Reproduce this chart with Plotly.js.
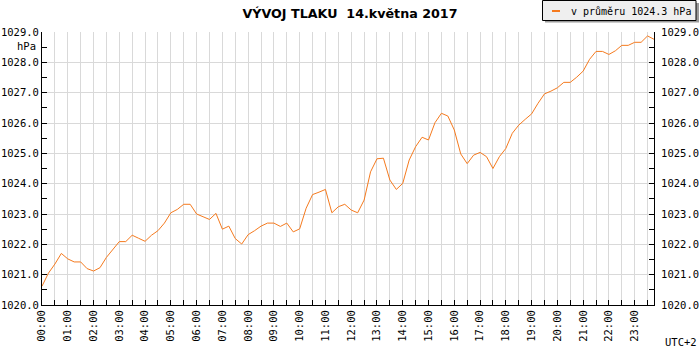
<!DOCTYPE html>
<html><head><meta charset="utf-8">
<script src="https://cdn.plot.ly/plotly-3.0.1.min.js"></script>
<style>html,body{margin:0;padding:0;background:#fff}#chart{width:700px;height:350px}</style>
</head><body><div id="chart"></div>
<script>
const day = '2017-05-14';
const times = [
 '00:00','00:15','00:30','00:45','01:00','01:15','01:30','01:45',
 '02:00','02:15','02:30','02:45','03:00','03:15','03:30','03:45',
 '04:00','04:15','04:30','04:45','05:00','05:15','05:30','05:45',
 '06:00','06:15','06:30','06:45','07:00','07:15','07:30','07:45',
 '08:00','08:15','08:30','08:45','09:00','09:15','09:30','09:45',
 '10:00','10:15','10:30','10:45','11:00','11:15','11:30','11:45',
 '12:00','12:15','12:30','12:45','13:00','13:15','13:30','13:45',
 '14:00','14:15','14:30','14:45','15:00','15:15','15:30','15:45',
 '16:00','16:15','16:30','16:45','17:00','17:15','17:30','17:45',
 '18:00','18:15','18:30','18:45','19:00','19:15','19:30','19:45',
 '20:00','20:15','20:30','20:45','21:00','21:15','21:30','21:45',
 '22:00','22:15','22:30','22:45','23:00','23:15','23:30','23:45'];
const pressure = [
 1020.62,1021.05,1021.35,1021.70,1021.52,1021.42,1021.42,1021.20,
 1021.12,1021.23,1021.57,1021.85,1022.09,1022.09,1022.30,1022.20,
 1022.10,1022.30,1022.45,1022.70,1023.04,1023.15,1023.32,1023.32,
 1023.00,1022.91,1022.82,1023.02,1022.50,1022.60,1022.19,1022.01,
 1022.32,1022.45,1022.60,1022.70,1022.70,1022.59,1022.70,1022.41,
 1022.51,1023.19,1023.64,1023.72,1023.81,1023.04,1023.24,1023.32,
 1023.13,1023.04,1023.46,1024.39,1024.82,1024.84,1024.12,1023.81,
 1024.01,1024.78,1025.22,1025.53,1025.44,1026.01,1026.32,1026.23,
 1025.77,1024.98,1024.66,1024.94,1025.03,1024.89,1024.50,1024.89,
 1025.16,1025.66,1025.93,1026.12,1026.30,1026.65,1026.96,1027.05,
 1027.16,1027.34,1027.34,1027.51,1027.71,1028.10,1028.36,1028.36,
 1028.26,1028.38,1028.56,1028.56,1028.66,1028.66,1028.87,1028.76];
const average = 1024.3;
const yRange = [1020, 1029];
const chartTitle = 'VÝVOJ TLAKU\u00a0 14.května 2017';
const unitLabel = 'hPa';
const tzLabel = 'UTC+2';
const legendText = 'v průměru ' + average.toFixed(1) + ' hPa';

const lineColor = '#f57a1e';
const gridColor = '#d9d9d9';
const mono = 'DejaVu Sans Mono, monospace';
const M = {l: 42, r: 46, t: 32, b: 45};
const W = 700, H = 350;
const PW = W - M.l - M.r, PH = H - M.t - M.b;
const px = x => (x - M.l) / PW;
const py = y => (H - M.b - y) / PH;

const xs = times.map(t => day + ' ' + t);

const traces = [
  {x: xs, y: pressure, type: 'scatter', mode: 'lines', name: legendText,
   line: {color: lineColor, width: 1}, showlegend: false, hoverinfo: 'x+y'},
  {x: [], y: [], yaxis: 'y2', type: 'scatter', mode: 'lines', showlegend: false, hoverinfo: 'skip'}
];

const yCommon = {
  range: yRange, dtick: 1, tick0: 1020, tickformat: '.1f',
  ticks: 'inside', ticklen: 5, tickcolor: '#000',
  showline: true, linecolor: '#000', linewidth: 1,
  zeroline: false, fixedrange: true,
  tickfont: {family: mono, size: 10.5, color: '#000'},
  minor: {dtick: 0.5, ticks: 'inside', ticklen: 5, tickcolor: '#000', showgrid: false}
};

const layout = {
  width: W, height: H,
  margin: M,
  paper_bgcolor: '#fff', plot_bgcolor: '#fff',
  title: {text: '<b>' + chartTitle + '</b>', x: 0.5, xref: 'container', xanchor: 'center',
          y: 1 - 13.5 / H, yref: 'container', yanchor: 'middle',
          font: {family: 'DejaVu Sans, Verdana, sans-serif', size: 12.7, color: '#000'}},
  showlegend: false,
  xaxis: {
    type: 'date', range: [day + ' 00:00', day + ' 23:45'],
    dtick: 3600000, tick0: day + ' 00:00', tickformat: '%H:%M', tickangle: -90,
    ticks: 'inside', ticklen: 5, tickcolor: '#000',
    showgrid: true, gridcolor: gridColor, gridwidth: 1,
    showline: true, linecolor: '#000', linewidth: 1, zeroline: false,
    tickfont: {family: mono, size: 10.5, color: '#000'},
    minor: {dtick: 1800000, ticks: 'inside', ticklen: 5, tickcolor: '#000', showgrid: true, gridcolor: gridColor, gridwidth: 1}
  },
  yaxis: Object.assign({}, yCommon, {showgrid: true, gridcolor: gridColor, gridwidth: 1, side: 'left'}),
  yaxis2: Object.assign({}, yCommon, {overlaying: 'y', side: 'right', showgrid: false, matches: 'y', ticklabelstandoff: 4}),
  shapes: [
    {type: 'rect', xref: 'paper', yref: 'paper', x0: px(545), x1: px(699), y0: py(3), y1: py(22.5),
     fillcolor: '#9a9a9a', line: {width: 0}, layer: 'above'},
    {type: 'rect', xref: 'paper', yref: 'paper', x0: px(542.5), x1: px(696), y0: py(0.5), y1: py(20.5),
     fillcolor: '#efefef', line: {color: '#000', width: 1}, layer: 'above'},
    {type: 'line', xref: 'paper', yref: 'paper', x0: px(552), x1: px(560), y0: py(11), y1: py(11),
     line: {color: lineColor, width: 2}, layer: 'above'}
  ],
  annotations: [
    {text: legendText, xref: 'paper', yref: 'paper', x: px(569), y: py(11), xanchor: 'left', yanchor: 'middle',
     showarrow: false, font: {family: mono, size: 10, color: '#000'}},
    {text: unitLabel, xref: 'paper', yref: 'y', x: px(38), y: 1028.55, xanchor: 'right', yanchor: 'middle',
     showarrow: false, font: {family: mono, size: 10.5, color: '#000'}},
    {text: tzLabel, xref: 'paper', yref: 'paper', x: px(681), y: py(342), xanchor: 'center', yanchor: 'middle',
     showarrow: false, font: {family: mono, size: 10.5, color: '#000'}}
  ]
};

Plotly.newPlot('chart', traces, layout, {staticPlot: true, displayModeBar: false});
</script>
</body></html>
